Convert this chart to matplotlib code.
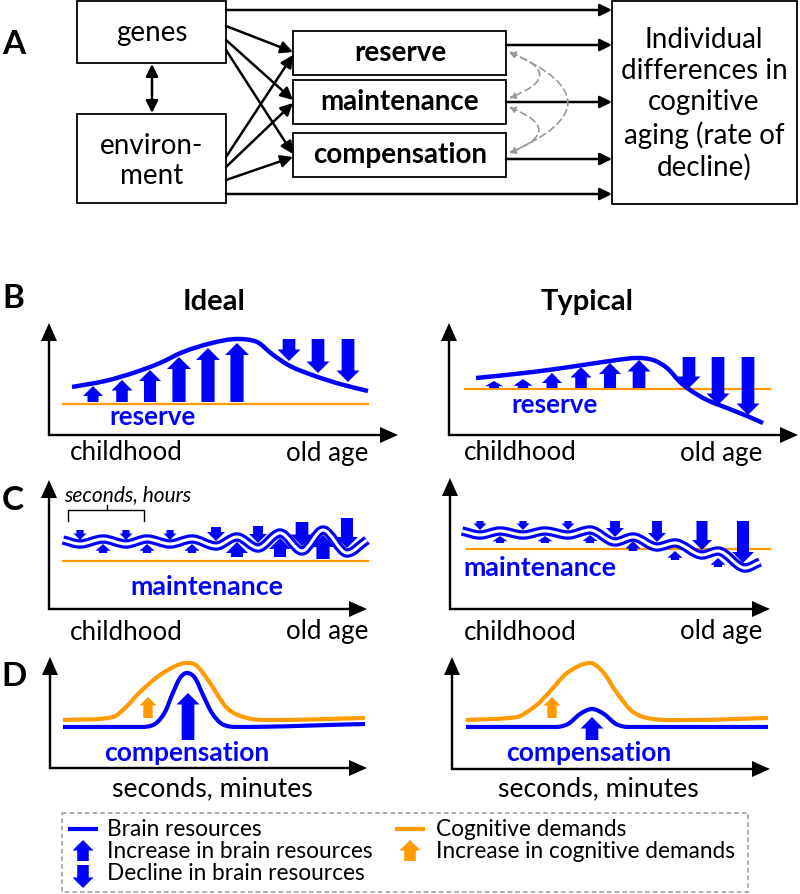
import numpy as np
import matplotlib
matplotlib.use('Agg')
import matplotlib.pyplot as plt
from matplotlib.path import Path
from matplotlib.patches import PathPatch, FancyArrow, Rectangle

plt.rcParams['font.family'] = ['Lato', 'DejaVu Sans']

BLUE = '#0000ff'
ORANGE = '#ff9a00'
GRAY = '#999999'

# ---- panel B : reserve curves (pixel coords)
b_ideal_x = [72, 105, 133, 160, 183, 212, 237, 257, 272, 290, 315, 340, 368]
b_ideal_y = [387, 381, 373, 363, 352, 343, 339, 342, 354, 366, 376, 384, 391]
b_typ_x = [476, 533, 583, 617, 637, 653, 667, 680, 690, 707, 727, 747, 763]
b_typ_y = [378, 372, 365, 360, 358, 360, 368, 382, 390, 400, 408, 416, 423]

# up arrows: x, tip, head width (base sits on the orange line)
b_ideal_up_x = [93, 122, 150, 179, 208, 237]
b_ideal_up_tip = [386, 380, 370, 357, 348, 343]
b_ideal_up_w = [20, 21, 22, 24, 24, 24]
b_ideal_dn_x = [289, 318, 348]
b_ideal_dn_tip = [361, 373, 382]

b_typ_up_x = [494, 523, 552, 581, 610, 639]
b_typ_up_tip = [381, 379, 373, 367, 363, 360]
b_typ_up_w = [18, 19, 20, 21, 22, 23]
b_typ_dn_x = [689, 718, 748]
b_typ_dn_tip = [388, 405, 415]

# ---- panel C : maintenance waves
c_ideal_x = [63, 80, 103, 126, 147, 170, 192, 216, 237, 258, 280, 302, 323, 347, 367]
c_ideal_y = [540, 544, 539, 544, 539, 544, 539, 546, 537, 548, 533, 551, 530, 553, 540]
c_ideal_dn_x = [80, 126, 170, 216, 258, 302, 347]
c_ideal_dn_top = [530, 530, 530, 527, 526, 522, 518]
c_ideal_dn_tip = [540, 540, 540, 541, 543, 546, 548]
c_ideal_dn_w = [13, 13, 13, 18, 18, 23, 22]
c_ideal_up_x = [103, 147, 192, 237, 280, 323]
c_ideal_up_base = [553, 553, 553, 557, 557, 559]
c_ideal_up_tip = [544, 544, 544, 542, 538, 535]
c_ideal_up_w = [15, 15, 15, 22, 22, 24]

c_typ_x = [462, 480, 500, 523, 545, 568, 590, 615, 633, 657, 675, 702, 718, 745, 760]
c_typ_y = [531, 535, 531, 535, 531, 535, 530, 542, 537, 547, 543, 555, 551, 568, 562]
c_typ_dn_x = [480, 523, 568, 615, 657, 702, 743]
c_typ_dn_top = [521, 521, 521, 521, 521, 521, 521]
c_typ_dn_tip = [530, 530, 530, 537, 542, 550, 563]
c_typ_dn_w = [13, 13, 13, 18, 18, 20, 22]
c_typ_up_x = [500, 545, 590, 633, 675, 718]
c_typ_up_base = [543, 543, 543, 551, 560, 567]
c_typ_up_tip = [536, 536, 535, 541, 551, 558]

# ---- panel D : compensation (demands = orange, resources = blue)
d_ideal_dem_x = [63, 113, 127, 140, 163, 187, 197, 210, 227, 247, 273, 365]
d_ideal_dem_y = [720, 717, 706, 692, 673, 663, 666, 683, 708, 718, 720, 718]
d_ideal_res_x = [63, 140, 155, 165, 172, 180, 187, 195, 203, 212, 222, 237, 365]
d_ideal_res_y = [727, 727, 724, 712, 695, 678, 673, 678, 695, 713, 724, 727, 724]
d_typ_dem_x = [466, 517, 530, 540, 553, 567, 590, 603, 617, 633, 653, 690, 768]
d_typ_dem_y = [720, 717, 710, 702, 688, 673, 663, 672, 693, 712, 719, 720, 718]
d_typ_res_x = [466, 555, 568, 580, 592, 604, 616, 629, 768]
d_typ_res_y = [727, 727, 724, 714, 709, 714, 724, 727, 727]


def smooth_path(xs, ys):
    # cubic hermite through the read points, flat at local extremes
    x = np.asarray(xs, float)
    y = np.asarray(ys, float)
    n = len(x)
    m = np.zeros(n)
    for i in range(n):
        if i == 0:
            m[i] = (y[1] - y[0]) / (x[1] - x[0])
        elif i == n - 1:
            m[i] = (y[-1] - y[-2]) / (x[-1] - x[-2])
        elif (y[i] - y[i - 1]) * (y[i + 1] - y[i]) <= 0:
            m[i] = 0
        else:
            m[i] = (y[i + 1] - y[i - 1]) / (x[i + 1] - x[i - 1])
    verts = [(x[0], y[0])]
    codes = [Path.MOVETO]
    for i in range(n - 1):
        h = x[i + 1] - x[i]
        verts += [(x[i] + h / 3, y[i] + m[i] * h / 3),
                  (x[i + 1] - h / 3, y[i + 1] - m[i + 1] * h / 3),
                  (x[i + 1], y[i + 1])]
        codes += [Path.CURVE4] * 3
    return Path(verts, codes)


def curve(ax, xs, ys, color, lw, z=3):
    ax.add_patch(PathPatch(smooth_path(xs, ys), fill=False, ec=color, lw=lw,
                           capstyle='butt', joinstyle='round', zorder=z))


def block_arrow(ax, x, y0, y1, hw, color, z=4):
    # y0 = base, y1 = tip
    length = abs(y1 - y0)
    hl = min(hw * 0.5, length * 0.75)
    ax.add_patch(FancyArrow(x, y0, 0, y1 - y0, width=hw * 0.55, head_width=hw,
                            head_length=hl, length_includes_head=True,
                            color=color, lw=0, zorder=z))


def axes_arrows(ax, x0, y0, ytop, xend):
    ax.add_patch(FancyArrow(x0, y0 + 1, 0, ytop - y0 - 1, width=2.4, head_width=16,
                            head_length=18, length_includes_head=True, color='black', lw=0))
    ax.add_patch(FancyArrow(x0 - 1, y0, xend - x0 + 1, 0, width=2.4, head_width=16,
                            head_length=18, length_includes_head=True, color='black', lw=0))


fig = plt.figure(figsize=(8, 8.94), dpi=100)
ax = fig.add_axes([0, 0, 1, 1])
ax.set_xlim(0, 800)
ax.set_ylim(894, 0)
ax.axis('off')

LETTER = dict(fontsize=24, fontweight='bold', ha='center', va='center')

# ================= panel A =================
ax.text(14, 44, 'A', **LETTER)
box_kw = dict(fill=False, ec='black', lw=1.3)
ax.add_patch(Rectangle((77, 1), 149, 62, **box_kw))
ax.add_patch(Rectangle((77, 114), 149, 89, **box_kw))
ax.add_patch(Rectangle((612, 1), 185, 203, **box_kw))
mid_y = [(31, 75), (80, 124), (133, 177)]
mid_lab = ['reserve', 'maintenance', 'compensation']
for (t, b), lab in zip(mid_y, mid_lab):
    ax.add_patch(Rectangle((293, t), 213, b - t, **box_kw))
    ax.text(400, (t + b) / 2, lab, fontsize=20, fontweight='bold', ha='center', va='center')
ax.text(152, 33, 'genes', fontsize=20, ha='center', va='center')
ax.text(152, 161, 'environ-\nment', fontsize=20, ha='center', va='center', linespacing=1.2)
ax.text(704, 104, 'Individual\ndifferences in\ncognitive\naging (rate of\ndecline)',
        fontsize=20, ha='center', va='center', linespacing=1.25)

arr = dict(arrowstyle='-|>', lw=1.8, color='black', mutation_scale=18, shrinkA=0, shrinkB=0)
links = [((226, 10), (612, 10)), ((506, 45), (612, 45)), ((506, 102), (612, 102)),
         ((506, 159), (612, 159)), ((226, 194), (612, 194)),
         ((226, 26), (293, 52)), ((226, 40), (293, 100)), ((226, 50), (293, 154)),
         ((226, 157), (293, 55)), ((226, 167), (293, 103)), ((226, 180), (293, 157))]
for s, e in links:
    ax.annotate('', xy=e, xytext=s, arrowprops=arr)
ax.annotate('', xy=(152, 113), xytext=(152, 64),
            arrowprops=dict(arrowstyle='<|-|>', lw=1.8, color='black', mutation_scale=18,
                            shrinkA=0, shrinkB=0))
dash = dict(arrowstyle='<|-|>', lw=1.2, color=GRAY, ls=(0, (4, 2.5)), mutation_scale=9,
            shrinkA=0, shrinkB=0)
for s, e, r in [((509, 52), (509, 98), -1.3), ((509, 107), (509, 153), -1.26),
                ((509, 52), (509, 153), -1.15)]:
    ax.annotate('', xy=e, xytext=s, arrowprops=dict(dash, connectionstyle=f'arc3,rad={r}'))

# ================= panel B =================
ax.text(13, 298, 'B', **LETTER)
ax.text(214, 302, 'Ideal', fontsize=21, fontweight='bold', ha='center', va='center')
ax.text(587, 302, 'Typical', fontsize=21, fontweight='bold', ha='center', va='center')
axes_arrows(ax, 49, 435, 323, 398)
axes_arrows(ax, 449, 435, 323, 798)
for xc in (126, 520):
    ax.text(xc, 453, 'childhood', fontsize=18.7, ha='center', va='center')
for xc in (327, 721):
    ax.text(xc, 453, 'old age', fontsize=18.7, ha='center', va='center')

ax.plot([63, 368], [404, 404], color=ORANGE, lw=1.6, zorder=2)
for x, tip, w in zip(b_ideal_up_x, b_ideal_up_tip, b_ideal_up_w):
    block_arrow(ax, x, 402, tip, w, BLUE)
for x, tip in zip(b_ideal_dn_x, b_ideal_dn_tip):
    block_arrow(ax, x, 339, tip, 23, BLUE)
curve(ax, b_ideal_x, b_ideal_y, BLUE, 3.2)
ax.text(153, 417, 'reserve', fontsize=18.7, fontweight='bold', color=BLUE, ha='center', va='center')

ax.plot([465, 770], [389, 389], color=ORANGE, lw=1.6, zorder=2)
for x, tip, w in zip(b_typ_up_x, b_typ_up_tip, b_typ_up_w):
    block_arrow(ax, x, 388, tip, w, BLUE)
for x, tip in zip(b_typ_dn_x, b_typ_dn_tip):
    block_arrow(ax, x, 357, tip, 23, BLUE)
curve(ax, b_typ_x, b_typ_y, BLUE, 3.2)
ax.text(555, 405, 'reserve', fontsize=18.7, fontweight='bold', color=BLUE, ha='center', va='center')

# ================= panel C =================
ax.text(13, 500, 'C', **LETTER)
axes_arrows(ax, 49, 609, 480, 367)
axes_arrows(ax, 450, 609, 478, 770)
for xc in (126, 520):
    ax.text(xc, 632, 'childhood', fontsize=18.7, ha='center', va='center')
for xc in (327, 721):
    ax.text(xc, 632, 'old age', fontsize=18.7, ha='center', va='center')
ax.text(128, 495, 'seconds, hours', fontsize=15, style='italic', ha='center', va='center')
ax.plot([68, 68, 144, 144], [521, 510, 510, 521], color='black', lw=1.0)
ax.plot([107, 107], [510, 505], color='black', lw=1.0)

ax.plot([63, 368], [561, 561], color=ORANGE, lw=1.6, zorder=2)
for x, t, tip, w in zip(c_ideal_dn_x, c_ideal_dn_top, c_ideal_dn_tip, c_ideal_dn_w):
    block_arrow(ax, x, t, tip, w, BLUE)
for x, b, tip, w in zip(c_ideal_up_x, c_ideal_up_base, c_ideal_up_tip, c_ideal_up_w):
    block_arrow(ax, x, b, tip, w, BLUE)
curve(ax, c_ideal_x, c_ideal_y, BLUE, 6.8, z=5)
curve(ax, c_ideal_x, c_ideal_y, 'white', 2.2, z=6)
ax.text(207, 587, 'maintenance', fontsize=19.3, fontweight='bold', color=BLUE, ha='center', va='center')

ax.plot([467, 770], [549, 549], color=ORANGE, lw=1.6, zorder=2)
for x, t, tip, w in zip(c_typ_dn_x, c_typ_dn_top, c_typ_dn_tip, c_typ_dn_w):
    block_arrow(ax, x, t, tip, w, BLUE)
for x, b, tip in zip(c_typ_up_x, c_typ_up_base, c_typ_up_tip):
    block_arrow(ax, x, b, tip, 15, BLUE)
curve(ax, c_typ_x, c_typ_y, BLUE, 6.8, z=5)
curve(ax, c_typ_x, c_typ_y, 'white', 2.2, z=6)
ax.text(540, 568, 'maintenance', fontsize=19.3, fontweight='bold', color=BLUE, ha='center', va='center')

# ================= panel D =================
ax.text(14, 676, 'D', **LETTER)
axes_arrows(ax, 50, 768, 657, 367)
axes_arrows(ax, 452, 769, 657, 770)
ax.text(212, 789, 'seconds, minutes', fontsize=19.2, ha='center', va='center')
ax.text(598, 789, 'seconds, minutes', fontsize=19.2, ha='center', va='center')

curve(ax, d_ideal_dem_x, d_ideal_dem_y, ORANGE, 3.0)
curve(ax, d_ideal_res_x, d_ideal_res_y, BLUE, 3.0)
block_arrow(ax, 148, 718, 697, 17, ORANGE)
block_arrow(ax, 188, 740, 693, 23, BLUE)
ax.text(187, 753, 'compensation', fontsize=19, fontweight='bold', color=BLUE, ha='center', va='center')

curve(ax, d_typ_dem_x, d_typ_dem_y, ORANGE, 3.0)
curve(ax, d_typ_res_x, d_typ_res_y, BLUE, 3.0)
block_arrow(ax, 552, 718, 697, 17, ORANGE)
block_arrow(ax, 592, 740, 717, 23, BLUE)
ax.text(589, 753, 'compensation', fontsize=19, fontweight='bold', color=BLUE, ha='center', va='center')

# ================= legend =================
ax.add_patch(Rectangle((62, 813), 686, 79, fill=False, ec=GRAY, lw=1.1, ls=(0, (3, 2))))
ax.plot([70, 96], [829, 829], color=BLUE, lw=3)
block_arrow(ax, 83, 861, 840, 21, BLUE)
block_arrow(ax, 83, 865, 888, 21, BLUE)
ax.plot([397, 423], [829, 829], color=ORANGE, lw=3)
block_arrow(ax, 410, 861, 840, 21, ORANGE)
leg_kw = dict(fontsize=16.3, ha='left', va='center')
ax.text(107, 829, 'Brain resources', **leg_kw)
ax.text(107, 851, 'Increase in brain resources', **leg_kw)
ax.text(107, 873, 'Decline in brain resources', **leg_kw)
ax.text(436, 829, 'Cognitive demands', **leg_kw)
ax.text(436, 851, 'Increase in cognitive demands', **leg_kw)

fig.savefig('out.png', dpi=100)
